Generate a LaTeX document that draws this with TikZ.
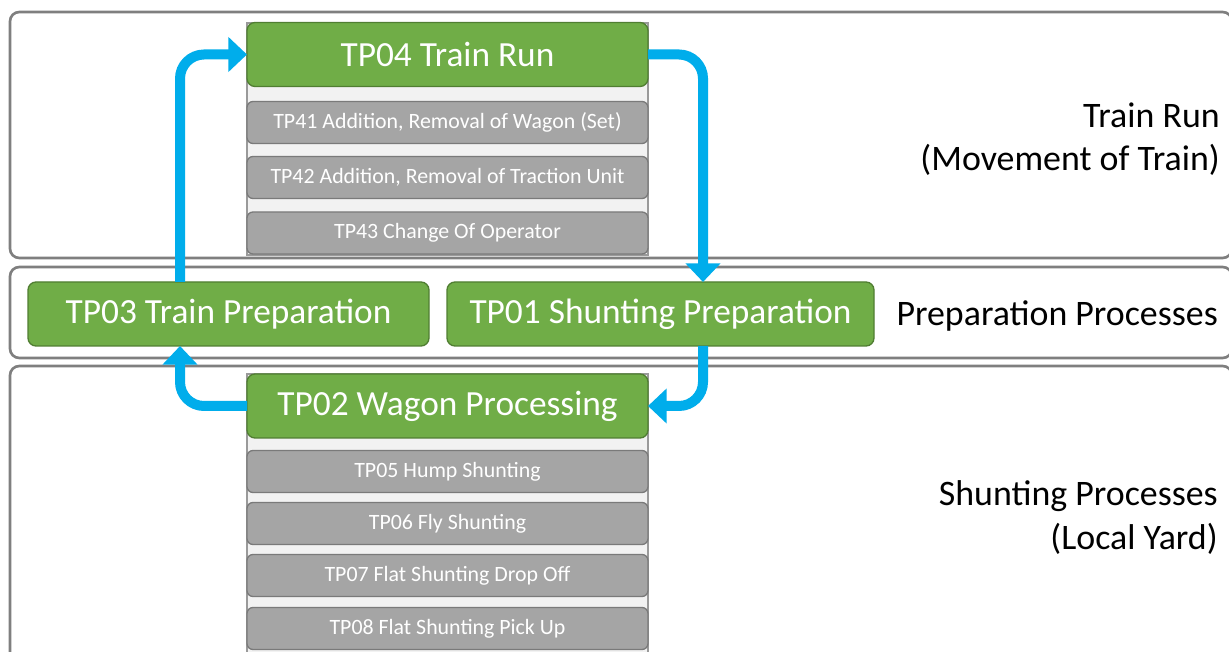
\documentclass[tikz,border=0pt]{standalone}
\usepackage{fontspec}
\setmainfont{Carlito}
\usetikzlibrary{arrows.meta}
\definecolor{lanegray}{HTML}{7F7F7F}
\definecolor{contfill}{HTML}{F2F2F2}
\definecolor{contline}{HTML}{9A9A9A}
\definecolor{tpgreen}{HTML}{70AD47}
\definecolor{tpgreenline}{HTML}{507E32}
\definecolor{subfill}{HTML}{A5A5A5}
\definecolor{subline}{HTML}{7A7A7A}
\definecolor{flowblue}{HTML}{00ADEB}
\begin{document}
\begin{tikzpicture}[x=0.75pt,y=-0.75pt,
  lane/.style={draw=lanegray, line width=2pt, rounded corners=7pt, fill=white},
  cont/.style={draw=contline, fill=contfill, line width=0.8pt},
  maintp/.style={draw=tpgreenline, fill=tpgreen, line width=1pt, rounded corners=6pt,
    text=white, font=\fontsize{26.5}{30}\selectfont, minimum width=300.75pt,
    minimum height=48pt, inner sep=0pt, outer sep=0pt},
  subtp/.style={draw=subline, fill=subfill, line width=1pt, rounded corners=4.5pt,
    text=white, font=\fontsize{16.4}{19}\selectfont, minimum width=300.75pt,
    minimum height=31.5pt, inner sep=0pt, outer sep=0pt},
  lbl/.style={font=\fontsize{26.9}{32.5}\selectfont, align=right, anchor=east, inner sep=0pt},
  flow/.style={draw=flowblue, line width=7.5pt, rounded corners=18pt,
    -{Triangle[width=25.5pt,length=14pt]}}]
\useasboundingbox (0,0) rectangle (1229,652);

% swimlanes
\draw[lane] (10,12) rectangle (1232,258);
\draw[lane] (10,267) rectangle (1232,358);
\draw[lane] (10,366) rectangle (1232,680);

% lane captions
\node[lbl] (lblrun) at (1220,139) {Train Run\\(Movement of Train)};
\node[lbl] (lblprep) at (1218,316) {Preparation Processes};
\node[lbl] (lblshunt) at (1218,517.5) {Shunting Processes\\(Local Yard)};

% process groups
\draw[cont] (247,23) rectangle (648,255);
\draw[cont] (247,374) rectangle (648,665);

\node[subtp] (tp41) at (447.5,122.5) {TP41 Addition, Removal of Wagon (Set)};
\node[subtp] (tp42) at (447.5,177.5) {TP42 Addition, Removal of Traction Unit};
\node[subtp] (tp43) at (447.5,233) {TP43 Change Of Operator};

\node[subtp] (tp05) at (447.5,471.5) {TP05 Hump Shunting};
\node[subtp] (tp06) at (447.5,523.5) {TP06 Fly Shunting};
\node[subtp] (tp07) at (447.5,575.5) {TP07 Flat Shunting Drop Off};
\node[subtp] (tp08) at (447.5,628.5) {TP08 Flat Shunting Pick Up};

\node[maintp] (tp04) at (447.5,54.5) {TP04 Train Run};
\node[maintp] (tp03) at (228.5,314) {TP03 Train Preparation};
\node[maintp, minimum width=320.25pt] (tp01) at (660.5,314) {TP01 Shunting Preparation};
\node[maintp] (tp02) at (447.5,406) {TP02 Wagon Processing};

% cycle of processes
\coordinate (xl) at (180,0);
\coordinate (xr) at (703,0);
\draw[flow] (tp03.north -| xl) |- (tp04.west);
\draw[flow] (tp04.east) -| (tp01.north -| xr);
\draw[flow] (tp01.south -| xr) |- (tp02.east);
\draw[flow] (tp02.west) -| (tp03.south -| xl);
\end{tikzpicture}
\end{document}
